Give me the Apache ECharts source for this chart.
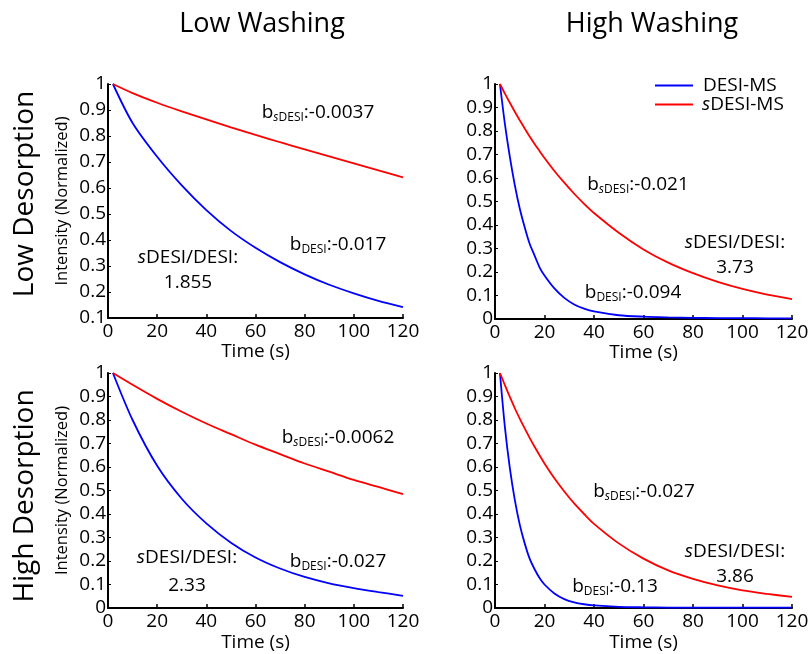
<!DOCTYPE html>
<html>
<head>
<meta charset="utf-8">
<script src="https://cdn.jsdelivr.net/npm/echarts@6/dist/echarts.min.js"></script>
<style>
html,body{margin:0;padding:0;background:#fff;}
#chart{width:812px;height:654px;}
</style>
</head>
<body>
<div id="chart"></div>
<script>
// ---- data ----
const colTitles = ['Low Washing', 'High Washing'];
const rowTitles = ['Low Desorption', 'High Desorption'];
const seriesNames = ['DESI-MS', 'sDESI-MS'];
const xTicks = [0, 20, 40, 60, 80, 100, 120];

const tlTime  = [2, 10, 20, 30, 40, 50, 60, 70, 80, 90, 100, 110, 120];
const tlDesi  = [1, 0.85, 0.72, 0.61, 0.515, 0.435, 0.37, 0.315, 0.268, 0.228, 0.195, 0.166, 0.142];
const tlSdesi = [1, 0.965, 0.928, 0.895, 0.864, 0.833, 0.804, 0.776, 0.749, 0.722, 0.695, 0.668, 0.641];

const trTime  = [2, 4, 6, 8, 10, 12, 14, 16, 18, 20, 24, 28, 32, 36, 40, 50, 60, 70, 80, 90, 100, 110, 120];
const trDesi  = [1, 0.83, 0.69, 0.57, 0.47, 0.39, 0.32, 0.27, 0.22, 0.185, 0.13, 0.09, 0.062, 0.044, 0.032, 0.016, 0.01, 0.007, 0.005, 0.004, 0.004, 0.003, 0.003];
const trSdesi = [1, 0.959, 0.92, 0.882, 0.846, 0.811, 0.777, 0.745, 0.715, 0.685, 0.63, 0.58, 0.533, 0.49, 0.451, 0.367, 0.296, 0.24, 0.195, 0.158, 0.128, 0.104, 0.085];

const blTime  = [2, 10, 20, 30, 40, 50, 60, 70, 80, 90, 100, 110, 120];
const blDesi  = [1, 0.80, 0.605, 0.465, 0.36, 0.278, 0.215, 0.168, 0.132, 0.105, 0.085, 0.068, 0.052];
const blSdesi = [1, 0.95, 0.89, 0.835, 0.785, 0.74, 0.695, 0.655, 0.615, 0.58, 0.545, 0.515, 0.485];

const brTime  = [2, 4, 6, 8, 10, 12, 14, 16, 18, 20, 24, 28, 32, 36, 40, 50, 60, 70, 80, 90, 100, 110, 120];
const brDesi  = [1, 0.77, 0.595, 0.46, 0.355, 0.275, 0.21, 0.165, 0.128, 0.1, 0.062, 0.038, 0.024, 0.016, 0.011, 0.005, 0.003, 0.002, 0.002, 0.002, 0.002, 0.002, 0.002];
const brSdesi = [1, 0.948, 0.898, 0.85, 0.806, 0.764, 0.724, 0.686, 0.65, 0.615, 0.552, 0.496, 0.445, 0.4, 0.358, 0.275, 0.21, 0.16, 0.124, 0.096, 0.075, 0.06, 0.047];

const bSdesi = ['-0.0037', '-0.021', '-0.0062', '-0.027'];
const bDesi  = ['-0.017', '-0.094', '-0.027', '-0.13'];
const ratios = ['1.855', '3.73', '2.33', '3.86'];
const yMins = [0.1, 0, 0, 0];

// ---- layout / style ----
const FONT = '"Open Sans", Lato, sans-serif';
const FS = 19;
const BLUE = '#0000ff';
const RED = '#ff0000';

const panels = [
  {time: tlTime, desi: tlDesi, sdesi: tlSdesi},
  {time: trTime, desi: trDesi, sdesi: trSdesi},
  {time: blTime, desi: blDesi, sdesi: blSdesi},
  {time: brTime, desi: brDesi, sdesi: brSdesi}
];
const gridBoxes = [
  {left: 108, top: 84, width: 295, height: 234},
  {left: 495, top: 84, width: 297, height: 235},
  {left: 108, top: 373, width: 295, height: 235},
  {left: 495, top: 373, width: 297, height: 235}
];

const zip = (t, v) => t.map((x, i) => [x, v[i]]);

const grids = gridBoxes.map(g => Object.assign({containLabel: false}, g));
const xAxes = gridBoxes.map((g, i) => ({
  type: 'value', gridIndex: i, min: 0, max: 120, interval: 20,
  name: 'Time (s)', nameLocation: 'middle', nameGap: i < 2 ? 22 : 25,
  nameTextStyle: {fontFamily: FONT, fontSize: FS, color: '#000'},
  axisLine: {show: true, onZero: false, lineStyle: {color: '#000', width: 2}},
  axisTick: {show: true, inside: true, length: 4, lineStyle: {color: '#000', width: 1.5}},
  axisLabel: {fontFamily: FONT, fontSize: FS, color: '#000', margin: 4},
  splitLine: {show: false}
}));
const yAxes = gridBoxes.map((g, i) => ({
  type: 'value', gridIndex: i, min: yMins[i], max: 1, interval: 0.1,
  name: (i % 2 === 0) ? 'Intensity (Normalized)' : '',
  nameLocation: 'middle', nameGap: 37,
  nameTextStyle: {fontFamily: FONT, fontSize: 16.5, color: '#000'},
  axisLine: {show: true, onZero: false, lineStyle: {color: '#000', width: 2}},
  axisTick: {show: true, inside: true, length: 3, lineStyle: {color: '#000', width: 1}},
  axisLabel: {fontFamily: FONT, fontSize: FS, color: '#000', margin: 2,
    formatter: v => String(Math.round(v * 10) / 10)},
  splitLine: {show: false}
}));

const series = [];
panels.forEach((p, i) => {
  series.push({
    name: seriesNames[0], type: 'line', xAxisIndex: i, yAxisIndex: i,
    data: zip(p.time, p.desi), showSymbol: false, smooth: 0.3,
    lineStyle: {color: BLUE, width: 1.8}, itemStyle: {color: BLUE}, z: 3
  });
  series.push({
    name: seriesNames[1], type: 'line', xAxisIndex: i, yAxisIndex: i,
    data: zip(p.time, p.sdesi), showSymbol: false, smooth: 0.3,
    lineStyle: {color: RED, width: 1.8}, itemStyle: {color: RED}, z: 3
  });
});

const rich = {
  m: {fontFamily: FONT, fontSize: FS, color: '#000', lineHeight: 22},
  m2: {fontFamily: FONT, fontSize: FS, color: '#000', lineHeight: 22},
  mi: {fontFamily: FONT, fontSize: FS, color: '#000', lineHeight: 22, fontStyle: 'italic'},
  sub: {fontFamily: FONT, fontSize: 12, color: '#000', lineHeight: 16, verticalAlign: 'bottom'},
  subi: {fontFamily: FONT, fontSize: 12, color: '#000', lineHeight: 16, verticalAlign: 'bottom', fontStyle: 'italic'}
};
const legRich = {
  m: {fontFamily: FONT, fontSize: FS, color: '#000', lineHeight: 20, padding: [0, 0, 0, 5]},
  mi: {fontFamily: FONT, fontSize: FS, color: '#000', lineHeight: 20, fontStyle: 'italic', padding: [0, 0, 0, 4]},
  m2: {fontFamily: FONT, fontSize: FS, color: '#000', lineHeight: 20}
};
function txt(x, y, text) {
  return {
    type: 'text', x: x, y: y,
    style: {text: text, rich: rich, align: 'center', verticalAlign: 'middle',
      font: FS + 'px ' + FONT, fill: '#000'}
  };
}
function plain(x, y, text, size, rot) {
  return {
    type: 'text', x: x, y: y, rotation: rot || 0,
    style: {text: text, align: 'center', verticalAlign: 'middle',
      font: size + 'px ' + FONT, fill: '#000'}
  };
}
const bS = v => '{m|b}{subi|s}{sub|DESI}{m|:' + v + '}';
const bD = v => '{m|b}{sub|DESI}{m|:' + v + '}';
const ratioLbl = '{mi|s}{m|DESI/DESI:}';

// annotation anchors (pixel centres)
const annPos = [
  {bs: [318, 113], bd: [338, 245], r: [188, 258], rv: [188, 283]},
  {bs: [638, 185], bd: [633, 293], r: [735, 243], rv: [735, 268]},
  {bs: [338, 438], bd: [338, 562], r: [187, 558], rv: [187, 586]},
  {bs: [644, 492], bd: [615, 587], r: [735, 552], rv: [735, 577]}
];

const graphics = [];
graphics.push(plain(262, 24, colTitles[0], 27));
graphics.push(plain(652, 24, colTitles[1], 27));
graphics.push(plain(25, 194, rowTitles[0], 28, Math.PI / 2));
graphics.push(plain(25, 496, rowTitles[1], 28, Math.PI / 2));
annPos.forEach((a, i) => {
  graphics.push(txt(a.bs[0], a.bs[1], bS(bSdesi[i])));
  graphics.push(txt(a.bd[0], a.bd[1], bD(bDesi[i])));
  graphics.push(txt(a.r[0], a.r[1], ratioLbl));
  graphics.push(txt(a.rv[0], a.rv[1], '{m2|' + ratios[i] + '}'));
});

const chart = echarts.init(document.getElementById('chart'), null, {renderer: 'canvas'});
chart.setOption({
  animation: false,
  backgroundColor: '#fff',
  grid: grids,
  xAxis: xAxes,
  yAxis: yAxes,
  series: series,
  legend: {
    data: seriesNames, orient: 'vertical', left: 650, top: 71,
    icon: 'rect', itemWidth: 38, itemHeight: 2, itemGap: 0,
    textStyle: {fontFamily: FONT, fontSize: FS, color: '#000', rich: legRich},
    formatter: n => n === 'sDESI-MS' ? '{mi|s}{m2|DESI-MS}' : '{m|' + n + '}'
  },
  graphic: graphics
});
</script>
</body>
</html>
